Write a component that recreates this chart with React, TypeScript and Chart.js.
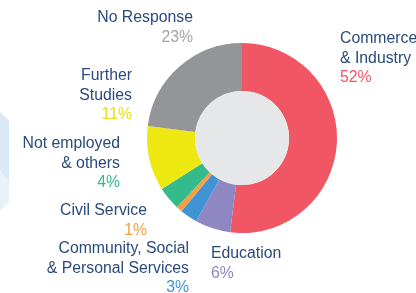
import React, { useEffect, useRef } from "react";
import { Chart, registerables } from "chart.js";

Chart.register(...registerables);

const categories = [
  "Commerce & Industry",
  "Education",
  "Community, Social & Personal Services",
  "Civil Service",
  "Not employed & others",
  "Further Studies",
  "No Response",
];
const shares = [52, 6, 3, 1, 4, 11, 23];
const sliceColors = ["#f05663", "#8e87c3", "#4194d3", "#f7a043", "#34ba8b", "#eee812", "#939598"];
const pctColors = ["#f05663", "#8e87c3", "#4194d3", "#f7a043", "#34ba8b", "#e8e010", "#a3a4a6"];
const labelLines = [
  ["Commerce", "& Industry"],
  ["Education"],
  ["Community, Social", "& Personal Services"],
  ["Civil Service"],
  ["Not employed", "& others"],
  ["Further", "Studies"],
  ["No Response"],
];

// label anchor layout (offset from doughnut centre: x, baseline of first line, alignment)
const labelLayout: [number, number, CanvasTextAlign][] = [
  [98, -95, "left"],
  [-31, 120, "left"],
  [-53, 115, "right"],
  [-95, 77, "right"],
  [-122, 10, "right"],
  [-110, -58, "right"],
  [-49, -116, "right"],
];

export default function App() {
  const ref = useRef<HTMLCanvasElement>(null);
  useEffect(() => {
    document.body.style.margin = "0";
    const decor = {
      id: "decor",
      beforeDraw(chart: any) {
        const c = chart.ctx;
        c.save();
        c.fillStyle = "#e9f1f9";
        c.beginPath();
        c.moveTo(0, 112);
        c.lineTo(9, 121);
        c.lineTo(9, 202);
        c.lineTo(0, 211);
        c.closePath();
        c.fill();
        c.fillStyle = "#dbe9f4";
        c.beginPath();
        c.moveTo(0, 112);
        c.lineTo(9, 121);
        c.lineTo(9, 182);
        c.lineTo(0, 170);
        c.closePath();
        c.fill();
        c.restore();
      },
      afterDatasetsDraw(chart: any) {
        const arc = chart.getDatasetMeta(0).data[0];
        const cx = arc.x, cy = arc.y;
        const c = chart.ctx;
        c.save();
        c.fillStyle = "#e6e7e9";
        c.beginPath();
        c.arc(cx, cy, arc.innerRadius, 0, Math.PI * 2);
        c.fill();
        c.font = "15.8px 'Liberation Sans', Arial, sans-serif";
        c.textBaseline = "alphabetic";
        const lh = 19.5;
        categories.forEach((_, i) => {
          const [dx, dy, align] = labelLayout[i];
          c.textAlign = align;
          const lines = labelLines[i];
          lines.forEach((t, j) => {
            c.fillStyle = "#2a4a7b";
            c.fillText(t, cx + dx, cy + dy + j * lh);
          });
          c.fillStyle = pctColors[i];
          c.fillText(shares[i] + "%", cx + dx, cy + dy + lines.length * lh);
        });
        c.restore();
      },
    };
    const chart = new Chart(ref.current!, {
      type: "doughnut",
      data: {
        labels: categories,
        datasets: [
          {
            data: shares,
            backgroundColor: sliceColors,
            borderWidth: 0,
          },
        ],
      },
      options: {
        animation: false,
        responsive: false,
        cutout: "49.5%",
        layout: { padding: { left: 147, right: 79, top: 43, bottom: 60 } },
        plugins: { legend: { display: false }, tooltip: { enabled: false } },
      },
      plugins: [decor],
    });
    return () => chart.destroy();
  }, []);
  return <canvas ref={ref} width={416} height={293} style={{ display: "block" }} />;
}
